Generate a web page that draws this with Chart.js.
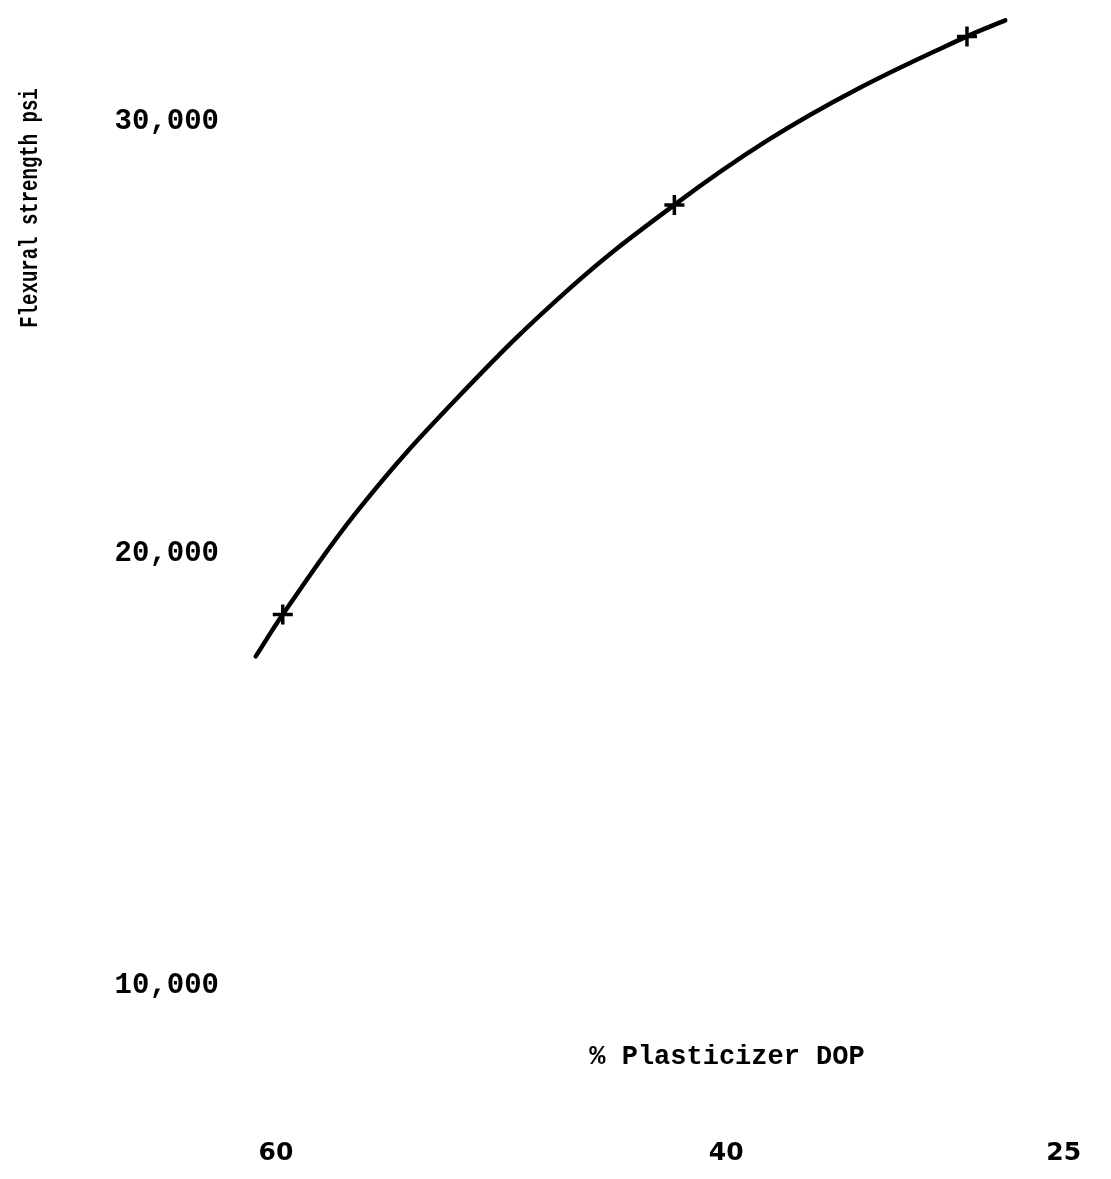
<!DOCTYPE html>
<html lang="en">
  <head>
    <meta charset="UTF-8" />
    <title>Flexural strength vs % plasticizer DOP</title>
    <style>
      body {
        margin: 0;
        background-color: white;
      }
      .chart-container {
        position: relative;
        width: 1111px;
        height: 1179px;
      }
    </style>
    <script src="https://cdn.jsdelivr.net/npm/chart.js@4.4.1/dist/chart.umd.min.js"></script>
  </head>
  <body>
    <div class="chart-container">
      <canvas id="flexChart"></canvas>
    </div>

    <script>
      // Curve (% DOP, psi)
      const curveDop = [60.9, 59.7, 56.3, 52.0, 46.9, 42.3, 38.2, 34.1, 29.3, 27.6];
      const curvePsi = [17620, 18590, 21040, 23570, 26160, 28070, 29550, 30770, 31970, 32340];

      // Measured points (the crosses)
      const pointDop = [59.7, 42.3, 29.3];
      const pointPsi = [18590, 28070, 31970];

      // Tick labels
      const xTicks = [60, 40, 25];
      const yTicks = [10000, 20000, 30000];

      const typeFont = '"Liberation Mono", "DejaVu Sans Mono", monospace';

      // axis titles sit in odd places on the original, so draw them by hand
      const axisTitles = {
        id: "axisTitles",
        afterDraw(chart) {
          const ctx = chart.ctx;
          ctx.save();
          ctx.fillStyle = "#000";
          ctx.font = "bold 27px " + typeFont;
          ctx.textAlign = "center";
          ctx.textBaseline = "middle";
          ctx.fillText("% Plasticizer DOP", 727, 1057);

          ctx.translate(31, 208);
          ctx.rotate(-Math.PI / 2);
          ctx.scale(1, 1.35); // scan is squashed vertically, glyphs look wide
          ctx.font = "bold 19px " + typeFont;
          ctx.fillText("Flexural strength psi", 0, 0);
          ctx.restore();
        },
      };

      const ctx = document.getElementById("flexChart").getContext("2d");
      new Chart(ctx, {
        type: "line",
        data: {
          datasets: [
            {
              data: curveDop.map((x, i) => ({ x: x, y: curvePsi[i] })),
              borderColor: "#000",
              borderWidth: 4.5,
              borderCapStyle: "round",
              pointRadius: 0,
              tension: 0.4,
            },
            {
              data: pointDop.map((x, i) => ({ x: x, y: pointPsi[i] })),
              showLine: false,
              pointStyle: "cross",
              pointRadius: 10,
              pointBorderWidth: 3.5,
              pointBorderColor: "#000",
            },
          ],
        },
        options: {
          responsive: true,
          maintainAspectRatio: false,
          animation: false,
          layout: {
            padding: { top: 10, right: 9, left: 0, bottom: 0 },
          },
          plugins: {
            legend: { display: false },
            tooltip: { enabled: false },
          },
          scales: {
            x: {
              type: "linear",
              reverse: true,
              min: 23.5,
              max: 62,
              grid: { display: false, drawTicks: false },
              border: { display: false },
              afterBuildTicks: (scale) => {
                scale.ticks = xTicks.map((v) => ({ value: v }));
              },
              afterFit: (scale) => {
                scale.height = 107;
                scale.paddingLeft = 0;
                scale.paddingRight = 0;
              },
              ticks: {
                color: "#000",
                padding: 66,
                maxRotation: 0,
                autoSkip: false,
                font: { family: '"DejaVu Sans", sans-serif', size: 25, weight: "bold" },
              },
            },
            y: {
              type: "linear",
              min: 8000,
              max: 32500,
              grid: { display: false, drawTicks: false },
              border: { display: false },
              afterBuildTicks: (scale) => {
                scale.ticks = yTicks.map((v) => ({ value: v }));
              },
              afterFit: (scale) => {
                scale.width = 231;
                scale.paddingTop = 0;
                scale.paddingBottom = 0;
              },
              ticks: {
                color: "#000",
                padding: 12,
                font: { family: typeFont, size: 29, weight: "bold" },
                callback: (v) => v.toLocaleString("en-US"),
              },
            },
          },
        },
        plugins: [axisTitles],
      });
    </script>
  </body>
</html>
